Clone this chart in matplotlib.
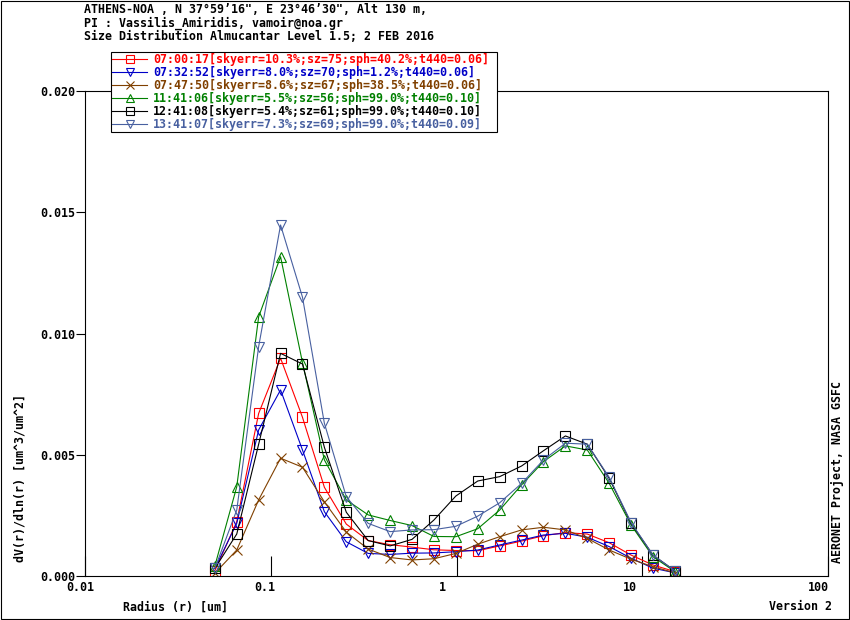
import matplotlib
matplotlib.use("Agg")
import matplotlib.pyplot as plt
from matplotlib.patches import Rectangle
from matplotlib.transforms import ScaledTranslation

# ---------- Data ----------
radius = [0.050000, 0.065604, 0.086077, 0.112939, 0.148184, 0.194429,
          0.255105, 0.334716, 0.439173, 0.576227, 0.756052, 0.991996,
          1.301571, 1.707757, 2.240702, 2.939966, 3.857452, 5.061260,
          6.640745, 8.713145, 11.432287, 15.000000]

dv_0700 = [0.00020, 0.00223, 0.00670, 0.00898, 0.00654, 0.00365, 0.00213,
           0.00145, 0.00128, 0.00118, 0.00107, 0.00104, 0.00103, 0.00123,
           0.00143, 0.00165, 0.00178, 0.00172, 0.00136, 0.00085, 0.00044,
           0.00017]
dv_0732 = [0.00030, 0.00216, 0.00602, 0.00767, 0.00519, 0.00264, 0.00140,
           0.00092, 0.00088, 0.00093, 0.00094, 0.00099, 0.00106, 0.00127,
           0.00147, 0.00168, 0.00175, 0.00159, 0.00120, 0.00072, 0.00031,
           0.00012]
dv_0747 = [0.00010, 0.00106, 0.00313, 0.00485, 0.00448, 0.00305, 0.00180,
           0.00110, 0.00075, 0.00065, 0.00070, 0.00092, 0.00130, 0.00161,
           0.00189, 0.00200, 0.00189, 0.00154, 0.00106, 0.00068, 0.00037,
           0.00012]
dv_1141 = [0.00040, 0.00367, 0.01069, 0.01317, 0.00880, 0.00478, 0.00313,
           0.00251, 0.00228, 0.00207, 0.00162, 0.00161, 0.00194, 0.00271,
           0.00375, 0.00471, 0.00536, 0.00519, 0.00381, 0.00209, 0.00078,
           0.00017]
dv_1241 = [0.00030, 0.00172, 0.00543, 0.00918, 0.00874, 0.00530, 0.00262,
           0.00145, 0.00123, 0.00150, 0.00230, 0.00329, 0.00391, 0.00409,
           0.00453, 0.00516, 0.00577, 0.00543, 0.00402, 0.00216, 0.00085,
           0.00020]
dv_1341 = [0.00030, 0.00271, 0.00946, 0.01448, 0.01150, 0.00629, 0.00326,
           0.00216, 0.00182, 0.00189, 0.00190, 0.00204, 0.00246, 0.00301,
           0.00381, 0.00478, 0.00547, 0.00543, 0.00406, 0.00219, 0.00085,
           0.00020]

labels = [
    "07:00:17[skyerr=10.3%;sz=75;sph=40.2%;t440=0.06]",
    "07:32:52[skyerr=8.0%;sz=70;sph=1.2%;t440=0.06]",
    "07:47:50[skyerr=8.6%;sz=67;sph=38.5%;t440=0.06]",
    "11:41:06[skyerr=5.5%;sz=56;sph=99.0%;t440=0.10]",
    "12:41:08[skyerr=5.4%;sz=61;sph=99.0%;t440=0.10]",
    "13:41:07[skyerr=7.3%;sz=69;sph=99.0%;t440=0.09]",
]
series = [dv_0700, dv_0732, dv_0747, dv_1141, dv_1241, dv_1341]

x_ticks = [0.01, 0.1, 1, 10, 100]
x_tick_labels = ["0.01", "0.1", "1", "10", "100"]
y_ticks = [0.000, 0.005, 0.010, 0.015, 0.020]

# ---------- Style ----------
colors = ["#FF0000", "#0000C8", "#804000", "#008000", "#000000", "#4860A0"]
markers = ["s", "v", "x", "^", "s", "v"]
msizes = [6.5, 7.0, 7.0, 7.0, 6.5, 7.0]
FONT = "DejaVu Sans Mono"
FS = 8.38
W, H = 850, 620

plt.rcParams["font.family"] = FONT
plt.rcParams["font.weight"] = "bold"
plt.rcParams["font.size"] = FS

fig = plt.figure(figsize=(W / 100, H / 100), dpi=100)
ax = fig.add_axes([85 / W, 44.3 / H, (828 - 85) / W, 484.4 / H])

for vals, c, m, ms, lbl in zip(series, colors, markers, msizes, labels):
    ax.plot(radius, vals, color=c, lw=0.8, marker=m, ms=ms,
            mfc="none", mec=c, mew=0.8, label=lbl)

ax.set_xscale("log")
ax.set_xlim(0.01, 100)
ax.set_ylim(0, 0.02)
ax.minorticks_off()
ax.set_xticks(x_ticks)
ax.set_xticklabels(x_tick_labels)
ax.set_yticks(y_ticks)
ax.set_yticklabels([f"{v:.3f}" for v in y_ticks])
ax.tick_params(axis="x", direction="in", length=14.4, width=0.8, pad=4.0,
               labelsize=FS)
ax.tick_params(axis="y", direction="out", length=6.5, width=0.8, pad=0.5,
               labelsize=FS)
for sp in ax.spines.values():
    sp.set_linewidth(0.8)

# label offsets like the original output (shifted left of ticks)
shifts = [-5, -6, -14, -12, -10]
for lab, dx in zip(ax.get_xticklabels(), shifts):
    lab.set_transform(lab.get_transform() +
                      ScaledTranslation(dx / 100, 0, fig.dpi_scale_trans))

# ---------- Legend ----------
leg = ax.legend(loc="upper left",
                bbox_to_anchor=(111 / W, 1 - 131 / H, 386 / W, 79 / H),
                bbox_transform=fig.transFigure, borderaxespad=0,
                mode="expand", frameon=True, fancybox=False,
                edgecolor="black", framealpha=1, handlelength=3.0,
                handletextpad=0.5, labelspacing=0.0, borderpad=0.1,
                fontsize=FS, markerscale=0.85)
leg.get_frame().set_linewidth(0.8)
for txt, c in zip(leg.get_texts(), colors):
    txt.set_color(c)

# ---------- Header / side texts ----------
header = [
    'ATHENS-NOA , N 37\u00b059\u201916", E 23\u00b046\u201930", Alt 130 m,',
    "PI : Vassilis_Amiridis, vamoir@noa.gr",
    "Size Distribution Almucantar Level 1.5; 2 FEB 2016",
]
for i, line in enumerate(header):
    fig.text(84 / W, 1 - (9.5 + 13.3 * i) / H, line, ha="left", va="center",
             fontsize=FS)

fig.text(20 / W, 1 - 562 / H, "dV(r)/dln(r) [um^3/um^2]", rotation=90,
         ha="center", va="bottom", fontsize=FS)
fig.text(123 / W, 1 - 607 / H, "Radius (r) [um]", ha="left", va="center",
         fontsize=FS)
fig.text(832 / W, 1 - 607 / H, "Version 2", ha="right", va="center",
         fontsize=FS)
fig.text(838 / W, 1 - 563 / H, "AERONET Project, NASA GSFC", rotation=90,
         ha="center", va="bottom", fontsize=FS)

# outer border
fig.patches.append(Rectangle((0.5 / W, 1.5 / H), (W - 2) / W, (H - 2.5) / H,
                             transform=fig.transFigure, fill=False,
                             edgecolor="black", linewidth=0.8))

fig.savefig("out.png", dpi=100)
